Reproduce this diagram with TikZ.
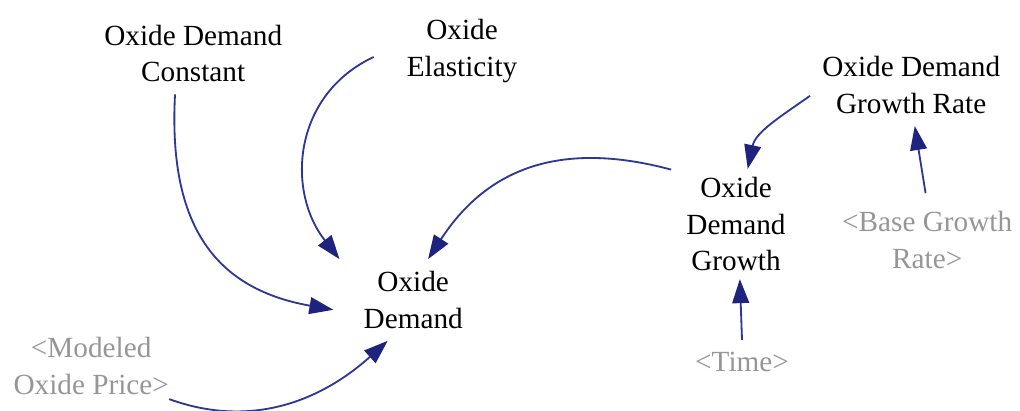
\documentclass[tikz,border=0pt]{standalone}
\usepackage{fontspec}
\setmainfont{Liberation Serif}
\usetikzlibrary{arrows.meta}

\definecolor{linkblue}{RGB}{45,55,150}
\definecolor{headblue}{RGB}{30,35,125}
\definecolor{shadowgray}{RGB}{150,150,150}

\begin{document}
\begin{tikzpicture}[
    font=\fontsize{20.8}{26}\selectfont,
    var/.style={
        inner sep=0.3cm,
        align=center
    },
    shadow/.style={var, text=shadowgray},
    link/.style={
        draw=linkblue,
        line width=1.3pt,
        -{Triangle[length=0.6cm, width=0.42cm, color=headblue, fill=headblue]}
    }
]
\useasboundingbox (0,0) rectangle (25.5,-10.25);

% ============================================================
% DEMAND
% ============================================================
\node[var, inner xsep=0.75cm] (dem) at (10.33,-7.5) {Oxide\\Demand};
\node[var] (cons) at (4.83,-1.34) {Oxide Demand\\Constant};
\node[var, inner xsep=0.82cm] (ela) at (11.55,-1.27) {Oxide\\Elasticity};
\node[shadow, inner xsep=0pt, inner ysep=0.2cm] (price) at (2.28,-9.15) {<Modeled\\Oxide Price>};

\draw[link] (cons.246) to[out=-93, in=170, looseness=1.2] (dem.187);
\draw[link] (ela.184) to[out=205, in=128, looseness=1.1] (dem.151);
\draw[link] (price.337) to[out=-20, in=222] (dem.238);

% ============================================================
% GROWTH
% ============================================================
\node[var, inner xsep=0.375cm, inner ysep=0.2cm] (growth) at (18.4,-5.6) {Oxide\\Demand\\Growth};
\node[var] (rate) at (22.78,-2.13) {Oxide Demand\\Growth Rate};
\node[shadow, inner ysep=0.45cm] (base) at (23.18,-6.0) {<Base Growth\\Rate>};
\node[shadow] (time) at (18.55,-9.05) {<Time>};

\draw[link] (growth.140) to[out=165, in=57, looseness=1.1] (dem.70);
\draw[link] (rate.186) to[out=215, in=78] (growth.78);
\draw[link] (base.92) -- (rate.275);
\draw[link] (time.north) -- (growth.274);

\end{tikzpicture}
\end{document}
